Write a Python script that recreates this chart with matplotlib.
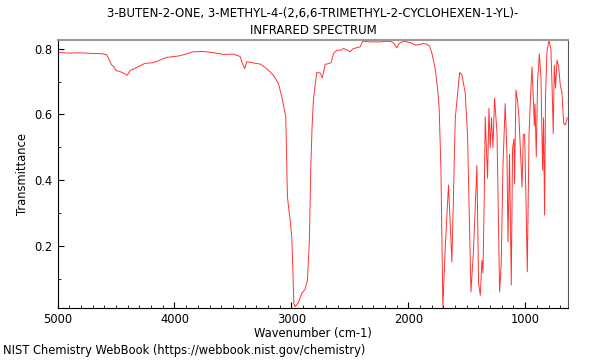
import numpy as np
import matplotlib
matplotlib.use('Agg')
from matplotlib import pyplot as plt
from matplotlib.ticker import MultipleLocator

title = '3-BUTEN-2-ONE, 3-METHYL-4-(2,6,6-TRIMETHYL-2-CYCLOHEXEN-1-YL)-\nINFRARED SPECTRUM'
footer = 'NIST Chemistry WebBook (https://webbook.nist.gov/chemistry)'

# wavenumber (cm-1)
wavenumber = [
    5000, 4900, 4800, 4700, 4610, 4580, 4538, 4518, 4501, 4452, 4404, 4381,
    4338, 4253, 4181, 4067, 3953, 3839, 3753, 3639, 3582, 3497, 3440, 3417,
    3399, 3382, 3339, 3268, 3211, 3154, 3111, 3082, 3068, 3048, 3034, 3011,
    2997, 2988, 2979, 2968, 2940, 2911, 2883, 2863, 2846, 2834, 2823, 2812,
    2797, 2783, 2754, 2735, 2711, 2683, 2660, 2640, 2611, 2577, 2555, 2520,
    2497, 2474, 2446, 2412, 2389, 2326, 2241, 2183, 2140, 2121, 2098, 2078,
    2041, 1984, 1950, 1935, 1913, 1870, 1841, 1818, 1798, 1770, 1750, 1736,
    1721, 1704, 1684, 1656, 1627, 1598, 1561, 1541, 1513, 1493, 1464, 1442,
    1413, 1399, 1384, 1370, 1361, 1350, 1342, 1322, 1310, 1299, 1288, 1276,
    1262, 1241, 1219, 1205, 1190, 1171, 1156, 1147, 1134, 1119, 1108, 1096,
    1091, 1079, 1065, 1053, 1042, 1027, 1016, 1005, 993, 982, 967, 956,
    942, 928, 922, 916, 905, 894, 879, 865, 856, 851, 843, 834,
    826, 814, 797, 780, 768, 760, 751, 740, 728, 714, 700, 685,
    671, 657, 640,
]
transmittance = [
    0.788, 0.786, 0.787, 0.785, 0.784, 0.781, 0.750, 0.745, 0.734, 0.728, 0.719, 0.733,
    0.740, 0.755, 0.757, 0.773, 0.778, 0.790, 0.791, 0.786, 0.782, 0.783, 0.776, 0.753,
    0.739, 0.760, 0.757, 0.753, 0.739, 0.719, 0.694, 0.653, 0.628, 0.593, 0.350, 0.280,
    0.229, 0.138, 0.027, 0.017, 0.030, 0.058, 0.070, 0.098, 0.219, 0.441, 0.562, 0.643,
    0.689, 0.727, 0.726, 0.711, 0.752, 0.754, 0.757, 0.785, 0.795, 0.795, 0.800, 0.795,
    0.790, 0.799, 0.802, 0.805, 0.822, 0.820, 0.820, 0.822, 0.820, 0.815, 0.802, 0.815,
    0.822, 0.818, 0.812, 0.810, 0.812, 0.815, 0.813, 0.807, 0.785, 0.740, 0.679, 0.620,
    0.437, 0.015, 0.195, 0.386, 0.153, 0.589, 0.727, 0.720, 0.665, 0.537, 0.062, 0.190,
    0.446, 0.089, 0.052, 0.158, 0.120, 0.350, 0.593, 0.407, 0.619, 0.500, 0.590, 0.500,
    0.650, 0.545, 0.062, 0.150, 0.444, 0.633, 0.480, 0.214, 0.480, 0.083, 0.497, 0.525,
    0.390, 0.674, 0.640, 0.590, 0.500, 0.380, 0.540, 0.540, 0.340, 0.123, 0.540, 0.640,
    0.744, 0.630, 0.566, 0.632, 0.472, 0.700, 0.784, 0.710, 0.540, 0.431, 0.590, 0.295,
    0.650, 0.790, 0.825, 0.800, 0.660, 0.542, 0.750, 0.680, 0.765, 0.745, 0.690, 0.665,
    0.573, 0.568, 0.590,
]

fig = plt.figure(figsize=(6, 3.6), dpi=100)
ax = fig.add_axes([0.096, 0.144, 0.851, 0.746])

ax.plot(wavenumber, transmittance, color='red', lw=0.7, alpha=0.8)

ax.set_xlim(5000, 632)
ax.set_ylim(0.013, 0.827)
ax.xaxis.set_major_locator(MultipleLocator(1000))
ax.xaxis.set_minor_locator(MultipleLocator(100))
ax.yaxis.set_major_locator(MultipleLocator(0.2))
ax.yaxis.set_minor_locator(MultipleLocator(0.1))
ax.tick_params(direction='in', labelsize=8.3, length=4)
ax.tick_params(which='minor', direction='in', length=2)

ax.spines['top'].set_color('#999999')
ax.spines['top'].set_linewidth(1.5)
ax.spines['right'].set_color('#555555')

ax.set_xlabel('Wavenumber (cm-1)', fontsize=8.3, labelpad=1)
ax.set_ylabel('Transmittance', fontsize=8.3)
ax.set_title(title, fontsize=8.5, linespacing=1.45, pad=4)
fig.text(0.005, 0.018, footer, fontsize=8.3)

fig.savefig('out.png', dpi=100)
